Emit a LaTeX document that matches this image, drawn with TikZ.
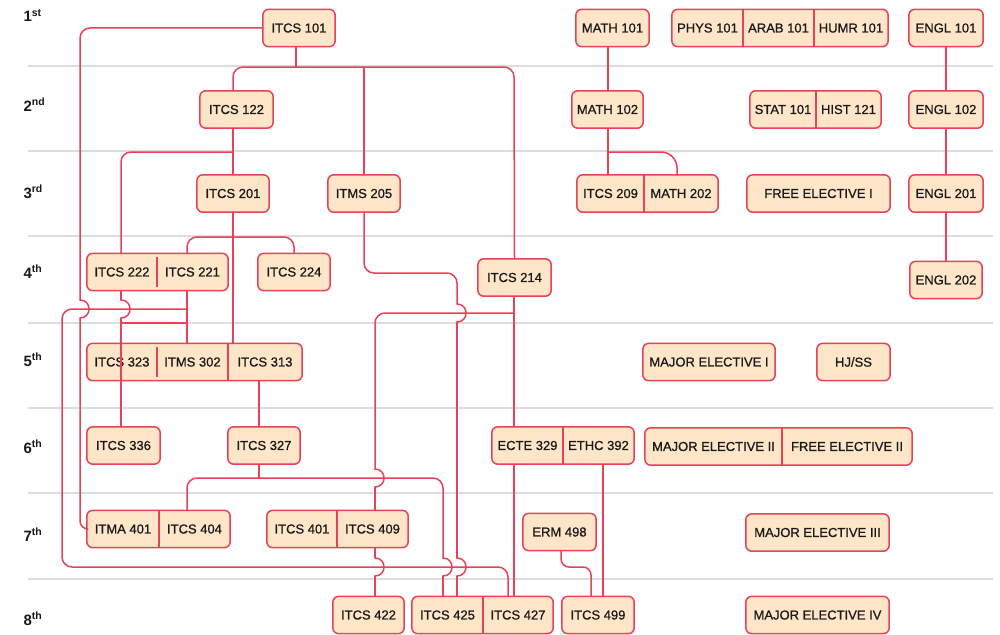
\documentclass[tikz,border=0pt]{standalone}
\usepackage{fontspec}
\setmainfont{Liberation Sans}
\newfontfamily\coursefont[FakeBold=0.8]{Liberation Sans}
\usetikzlibrary{backgrounds}
\definecolor{pathred}{RGB}{232,65,88}
\definecolor{coursefill}{RGB}{255,230,200}
\definecolor{coursetext}{RGB}{25,25,25}
\definecolor{gridgray}{RGB}{221,221,221}
\tikzset{
  course/.style={rectangle, inner sep=0pt, minimum height=37pt,
    font=\coursefont\fontsize{13}{15}\selectfont, text=coursetext},
  coursebox/.style={draw=pathred, fill=coursefill, line width=1.5pt, rounded corners=6pt},
  divider/.style={draw=pathred, line width=1.5pt},
  prereq/.style={draw=pathred, line width=1.5pt, line cap=round, rounded corners=10pt},
  jump/.style={prereq, sharp corners},
  semline/.style={draw=gridgray, line width=1.3pt},
  semester/.style={anchor=base west, font=\fontsize{15}{18}\selectfont\bfseries, text=coursetext}
}

\begin{document}
\begin{tikzpicture}[x=1pt, y=-1pt]
            \useasboundingbox (0,0) rectangle (1000,634);

            \node[semester] (sem1) at (20,22) {1\textsuperscript{st}};
            \node[semester] (sem2) at (20,111) {2\textsuperscript{nd}};
            \node[semester] (sem3) at (20,198) {3\textsuperscript{rd}};
            \node[semester] (sem4) at (20,278) {4\textsuperscript{th}};
            \node[semester] (sem5) at (20,366) {5\textsuperscript{th}};
            \node[semester] (sem6) at (20,453) {6\textsuperscript{th}};
            \node[semester] (sem7) at (20,541) {7\textsuperscript{th}};
            \node[semester] (sem8) at (20,625) {8\textsuperscript{th}};

            \node[course, minimum width=72pt] (itcs101) at (299,28) {ITCS 101};
            \node[course, minimum width=73pt] (math101) at (612.5,28) {MATH 101};
            \node[course, minimum width=71pt] (phys101) at (707.5,28) {PHYS 101};
            \node[course, minimum width=71pt] (arab101) at (778.5,28) {ARAB 101};
            \node[course, minimum width=74pt] (humr101) at (851,28) {HUMR 101};
            \node[course, minimum width=74pt] (engl101) at (946,28) {ENGL 101};

            \node[course, minimum width=73pt] (itcs122) at (236.5,109.5) {ITCS 122};
            \node[course, minimum width=71pt] (math102) at (607.5,109.5) {MATH 102};
            \node[course, minimum width=66pt] (stat101) at (783,109.5) {STAT 101};
            \node[course, minimum width=65pt] (hist121) at (848.5,109.5) {HIST 121};
            \node[course, minimum width=74pt] (engl102) at (946,109.5) {ENGL 102};

            \node[course, minimum width=72pt] (itcs201) at (233,193.5) {ITCS 201};
            \node[course, minimum width=72pt] (itms205) at (364,193.5) {ITMS 205};
            \node[course, minimum width=67pt] (itcs209) at (610.5,193.5) {ITCS 209};
            \node[course, minimum width=74pt] (math202) at (681,193.5) {MATH 202};
            \node[course, minimum width=143pt] (free1) at (818.5,193.5) {FREE ELECTIVE I};
            \node[course, minimum width=74pt] (engl201) at (946,193.5) {ENGL 201};

            \node[course, minimum width=70pt] (itcs222) at (122,272) {ITCS 222};
            \node[course, minimum width=71pt] (itcs221) at (192.5,272) {ITCS 221};
            \node[course, minimum width=72pt] (itcs224) at (294,272) {ITCS 224};
            \node[course, minimum width=73pt] (itcs214) at (514.5,277.5) {ITCS 214};
            \node[course, minimum width=72pt] (engl202) at (946,280) {ENGL 202};

            \node[course, minimum width=70pt] (itcs323) at (122,362) {ITCS 323};
            \node[course, minimum width=71pt] (itms302) at (192.5,362) {ITMS 302};
            \node[course, minimum width=74pt] (itcs313) at (265,362) {ITCS 313};
            \node[course, minimum width=132pt] (major1) at (709,362) {MAJOR ELECTIVE I};
            \node[course, minimum width=73pt] (hjss) at (853.5,362) {HJ/SS};

            \node[course, minimum width=73pt] (itcs336) at (123.5,445.5) {ITCS 336};
            \node[course, minimum width=72pt] (itcs327) at (264,445.5) {ITCS 327};
            \node[course, minimum width=71pt] (ecte329) at (527.5,445.5) {ECTE 329};
            \node[course, minimum width=71pt] (ethc392) at (598.5,445.5) {ETHC 392};
            \node[course, minimum width=137pt] (major2) at (713.5,446.5) {MAJOR ELECTIVE II};
            \node[course, minimum width=130pt] (free2) at (847,446.5) {FREE ELECTIVE II};

            \node[course, minimum width=72pt] (itma401) at (123,529) {ITMA 401};
            \node[course, minimum width=71pt] (itcs404) at (194.5,529) {ITCS 404};
            \node[course, minimum width=70pt] (itcs401) at (302,529) {ITCS 401};
            \node[course, minimum width=71pt] (itcs409) at (372.5,529) {ITCS 409};
            \node[course, minimum width=73pt] (erm498) at (559.5,532) {ERM 498};
            \node[course, minimum width=143pt] (major3) at (817.5,532.5) {MAJOR ELECTIVE III};

            \node[course, minimum width=71pt] (itcs422) at (368.5,615) {ITCS 422};
            \node[course, minimum width=71pt] (itcs425) at (447.5,615) {ITCS 425};
            \node[course, minimum width=70pt] (itcs427) at (518,615) {ITCS 427};
            \node[course, minimum width=72pt] (itcs499) at (598,615) {ITCS 499};
            \node[course, minimum width=143pt] (major4) at (817.5,615) {MAJOR ELECTIVE IV};

            \begin{scope}[on background layer]
                \foreach \y in {66,151,236,323,408,493,579}
                    \draw[semline] (28,\y) -- (993,\y);
                \foreach \a/\b in {itcs101/itcs101, math101/math101, phys101/humr101, engl101/engl101,
                    itcs122/itcs122, math102/math102, stat101/hist121, engl102/engl102,
                    itcs201/itcs201, itms205/itms205, itcs209/math202, free1/free1, engl201/engl201,
                    itcs222/itcs221, itcs224/itcs224, itcs214/itcs214, engl202/engl202,
                    itcs323/itcs313, major1/major1, hjss/hjss,
                    itcs336/itcs336, itcs327/itcs327, ecte329/ethc392, major2/free2,
                    itma401/itcs404, itcs401/itcs409, erm498/erm498, major3/major3,
                    itcs422/itcs422, itcs425/itcs427, itcs499/itcs499, major4/major4}
                    \draw[coursebox] (\a.north west) rectangle (\b.south east);
                \foreach \c in {phys101, arab101, stat101, itcs209, itms302, ecte329, major2,
                    itma401, itcs401, itcs425}
                    \draw[divider] (\c.north east) -- (\c.south east);
                \foreach \c in {itcs222, itcs323}
                    \draw[divider] ([yshift=-4pt]\c.north east) -- ([yshift=4pt]\c.south east);
            \end{scope}

            \foreach \x/\y in {80/309, 121/309, 457/313, 375/478, 375/567, 443/567, 457/567}
                \draw[jump] (\x,\y-9) .. controls (\x+12,\y-9) and (\x+12,\y+9) .. (\x,\y+9);

            \draw[prereq] (itcs101.west) -- (80,28) -- (80,300);
            \draw[prereq, rounded corners=8pt] (80,318) -- (80,529) -- (itma401.west);
            \draw[prereq] (itcs101.south -| 296,0) -- (296,67);
            \draw[prereq] (itcs122.north -| 233,0) -- (233,67) -- (514,67) -- (itcs214.north);
            \draw[prereq] (364,67) -- (itms205.north);

            \draw[prereq] (itcs122.south -| 233,0) -- (itcs201.north);
            \draw[prereq] (233,152) -- (121,152) -- (itcs222.north -| 121,0);
            \draw[prereq] (itcs201.south) -- (itcs313.north -| 233,0);
            \draw[prereq] (itcs221.north -| 187,0) -- (187,237) -- (294,237) -- (itcs224.north);

            \draw[prereq] (itcs221.south -| 187,0) -- (itms302.north -| 187,0);
            \draw[prereq] (187,309) -- (62,309) -- (62,567) -- (508,567) -- (itcs427.north -| 508,0);
            \draw[prereq] (itcs222.south -| 121,0) -- (121,300);
            \draw[prereq] (121,318) -- (itcs336.north -| 121,0);
            \draw[prereq] (121,323) -- (187,323);

            \draw[prereq] (itms205.south) -- (364,273) -- (457,273) -- (457,304);
            \draw[prereq] (457,322) -- (457,558);
            \draw[prereq] (457,576) -- (itcs425.north -| 457,0);
            \draw[prereq] (itcs214.south -| 514,0) -- (ecte329.north -| 514,0);
            \draw[prereq] (514,313) -- (375,313) -- (375,469);
            \draw[prereq] (375,487) -- (itcs409.north -| 375,0);
            \draw[prereq] (itcs409.south -| 375,0) -- (375,558);
            \draw[prereq] (375,576) -- (itcs422.north -| 375,0);

            \draw[prereq] (itcs313.south -| 259,0) -- (itcs327.north -| 259,0);
            \draw[prereq] (itcs327.south -| 259,0) -- (259,478);
            \draw[prereq] (itcs404.north -| 187,0) -- (187,478) -- (443,478) -- (443,558);
            \draw[prereq] (443,576) -- (itcs425.north -| 443,0);

            \draw[prereq] (ecte329.south -| 514,0) -- (itcs427.north -| 514,0);
            \draw[prereq] (ethc392.south -| 603,0) -- (itcs499.north -| 603,0);
            \draw[prereq, rounded corners=8pt] (erm498.south -| 561,0) -- (561,567) -- (591,567) -- (itcs499.north -| 591,0);

            \draw[prereq] (math101.south -| 608,0) -- (math102.north -| 608,0);
            \draw[prereq] (math102.south -| 608,0) -- (itcs209.north -| 608,0);
            \draw[prereq, rounded corners=16pt] (608,152) -- (677,152) -- (math202.north -| 677,0);

            \draw[prereq] (engl101) -- (engl102);
            \draw[prereq] (engl102) -- (engl201);
            \draw[prereq] (engl201) -- (engl202);

        \end{tikzpicture}
\end{document}
